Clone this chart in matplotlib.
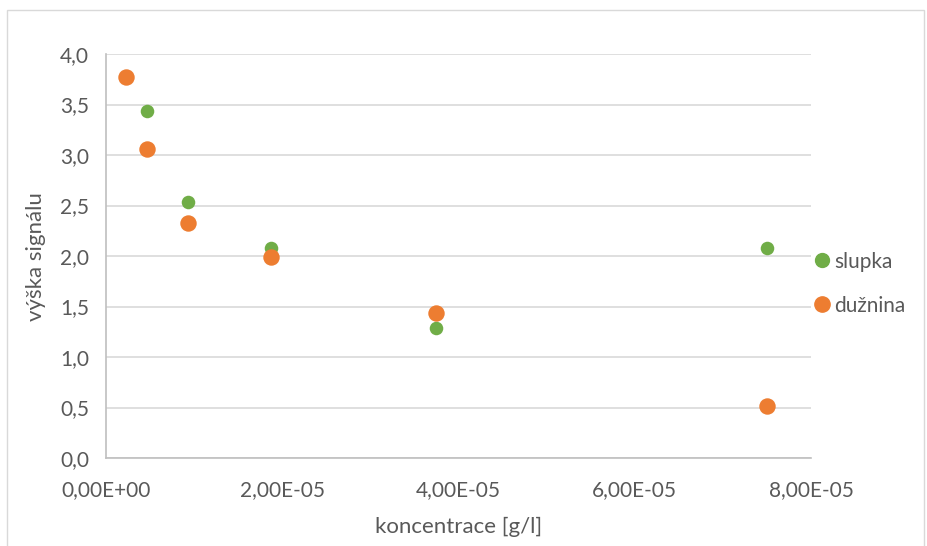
import matplotlib.pyplot as plt
from matplotlib.ticker import FuncFormatter, MultipleLocator
from matplotlib.patches import Rectangle
from matplotlib.lines import Line2D

plt.rcParams['font.family'] = ['Lato', 'DejaVu Sans']

# koncentrace [g/l]
x_slupka = [4.69e-6, 9.375e-6, 1.875e-5, 3.75e-5, 7.5e-5]
y_slupka = [3.44, 2.54, 2.08, 1.29, 2.08]
x_duznina = [2.34e-6, 4.69e-6, 9.375e-6, 1.875e-5, 3.75e-5, 7.5e-5]
y_duznina = [3.77, 3.06, 2.33, 1.99, 1.44, 0.52]

txt = '#595959'
grid = '#D9D9D9'
green = '#70AD47'
orange = '#ED7D31'

fig = plt.figure(figsize=(9.28, 5.46), dpi=100)
fig.patches.append(Rectangle((0.008, -0.01), 0.988, 0.992, transform=fig.transFigure,
                             fill=False, edgecolor='#D9D9D9', linewidth=1))
ax = fig.add_axes([0.114, 0.161, 0.76, 0.74])

ax.scatter(x_slupka, y_slupka, s=95, color=green, label='slupka', zorder=3, linewidths=0)
ax.scatter(x_duznina, y_duznina, s=140, color=orange, label='dužnina', zorder=3, linewidths=0)

ax.set_xlim(0, 8e-5)
ax.set_ylim(0, 4)
ax.xaxis.set_major_locator(MultipleLocator(2e-5))
ax.yaxis.set_major_locator(MultipleLocator(0.5))

def fmt_x(v, pos):
    s = '%.2E' % v
    return s.replace('.', ',')

ax.xaxis.set_major_formatter(FuncFormatter(fmt_x))
ax.yaxis.set_major_formatter(FuncFormatter(lambda v, p: ('%.1f' % v).replace('.', ',')))

ax.grid(axis='y', color=grid, linewidth=1.2)
ax.set_axisbelow(True)
for side in ['top', 'right']:
    ax.spines[side].set_visible(False)
ax.spines['left'].set_color('#BFBFBF')
ax.spines['bottom'].set_color('#BFBFBF')
ax.spines['left'].set_linewidth(1.2)
ax.spines['bottom'].set_linewidth(1.2)
ax.tick_params(length=0, labelsize=15, labelcolor=txt)
ax.tick_params(axis='x', pad=16)
ax.tick_params(axis='y', pad=12)

ax.set_xlabel('koncentrace [g/l]', fontsize=16, color=txt, labelpad=12)
ax.set_ylabel('výška signálu', fontsize=16, color=txt, labelpad=10)

handles = [Line2D([], [], marker='o', linestyle='', markersize=10, color=green),
           Line2D([], [], marker='o', linestyle='', markersize=11, color=orange)]
ax.legend(handles, ['slupka', 'dužnina'], loc='center left', bbox_to_anchor=(0.977, 0.432),
          frameon=False, fontsize=15, labelcolor=txt, handletextpad=-0.1, handlelength=1.4,
          labelspacing=1.15, borderaxespad=0.2)

fig.savefig('out.png', dpi=100)
